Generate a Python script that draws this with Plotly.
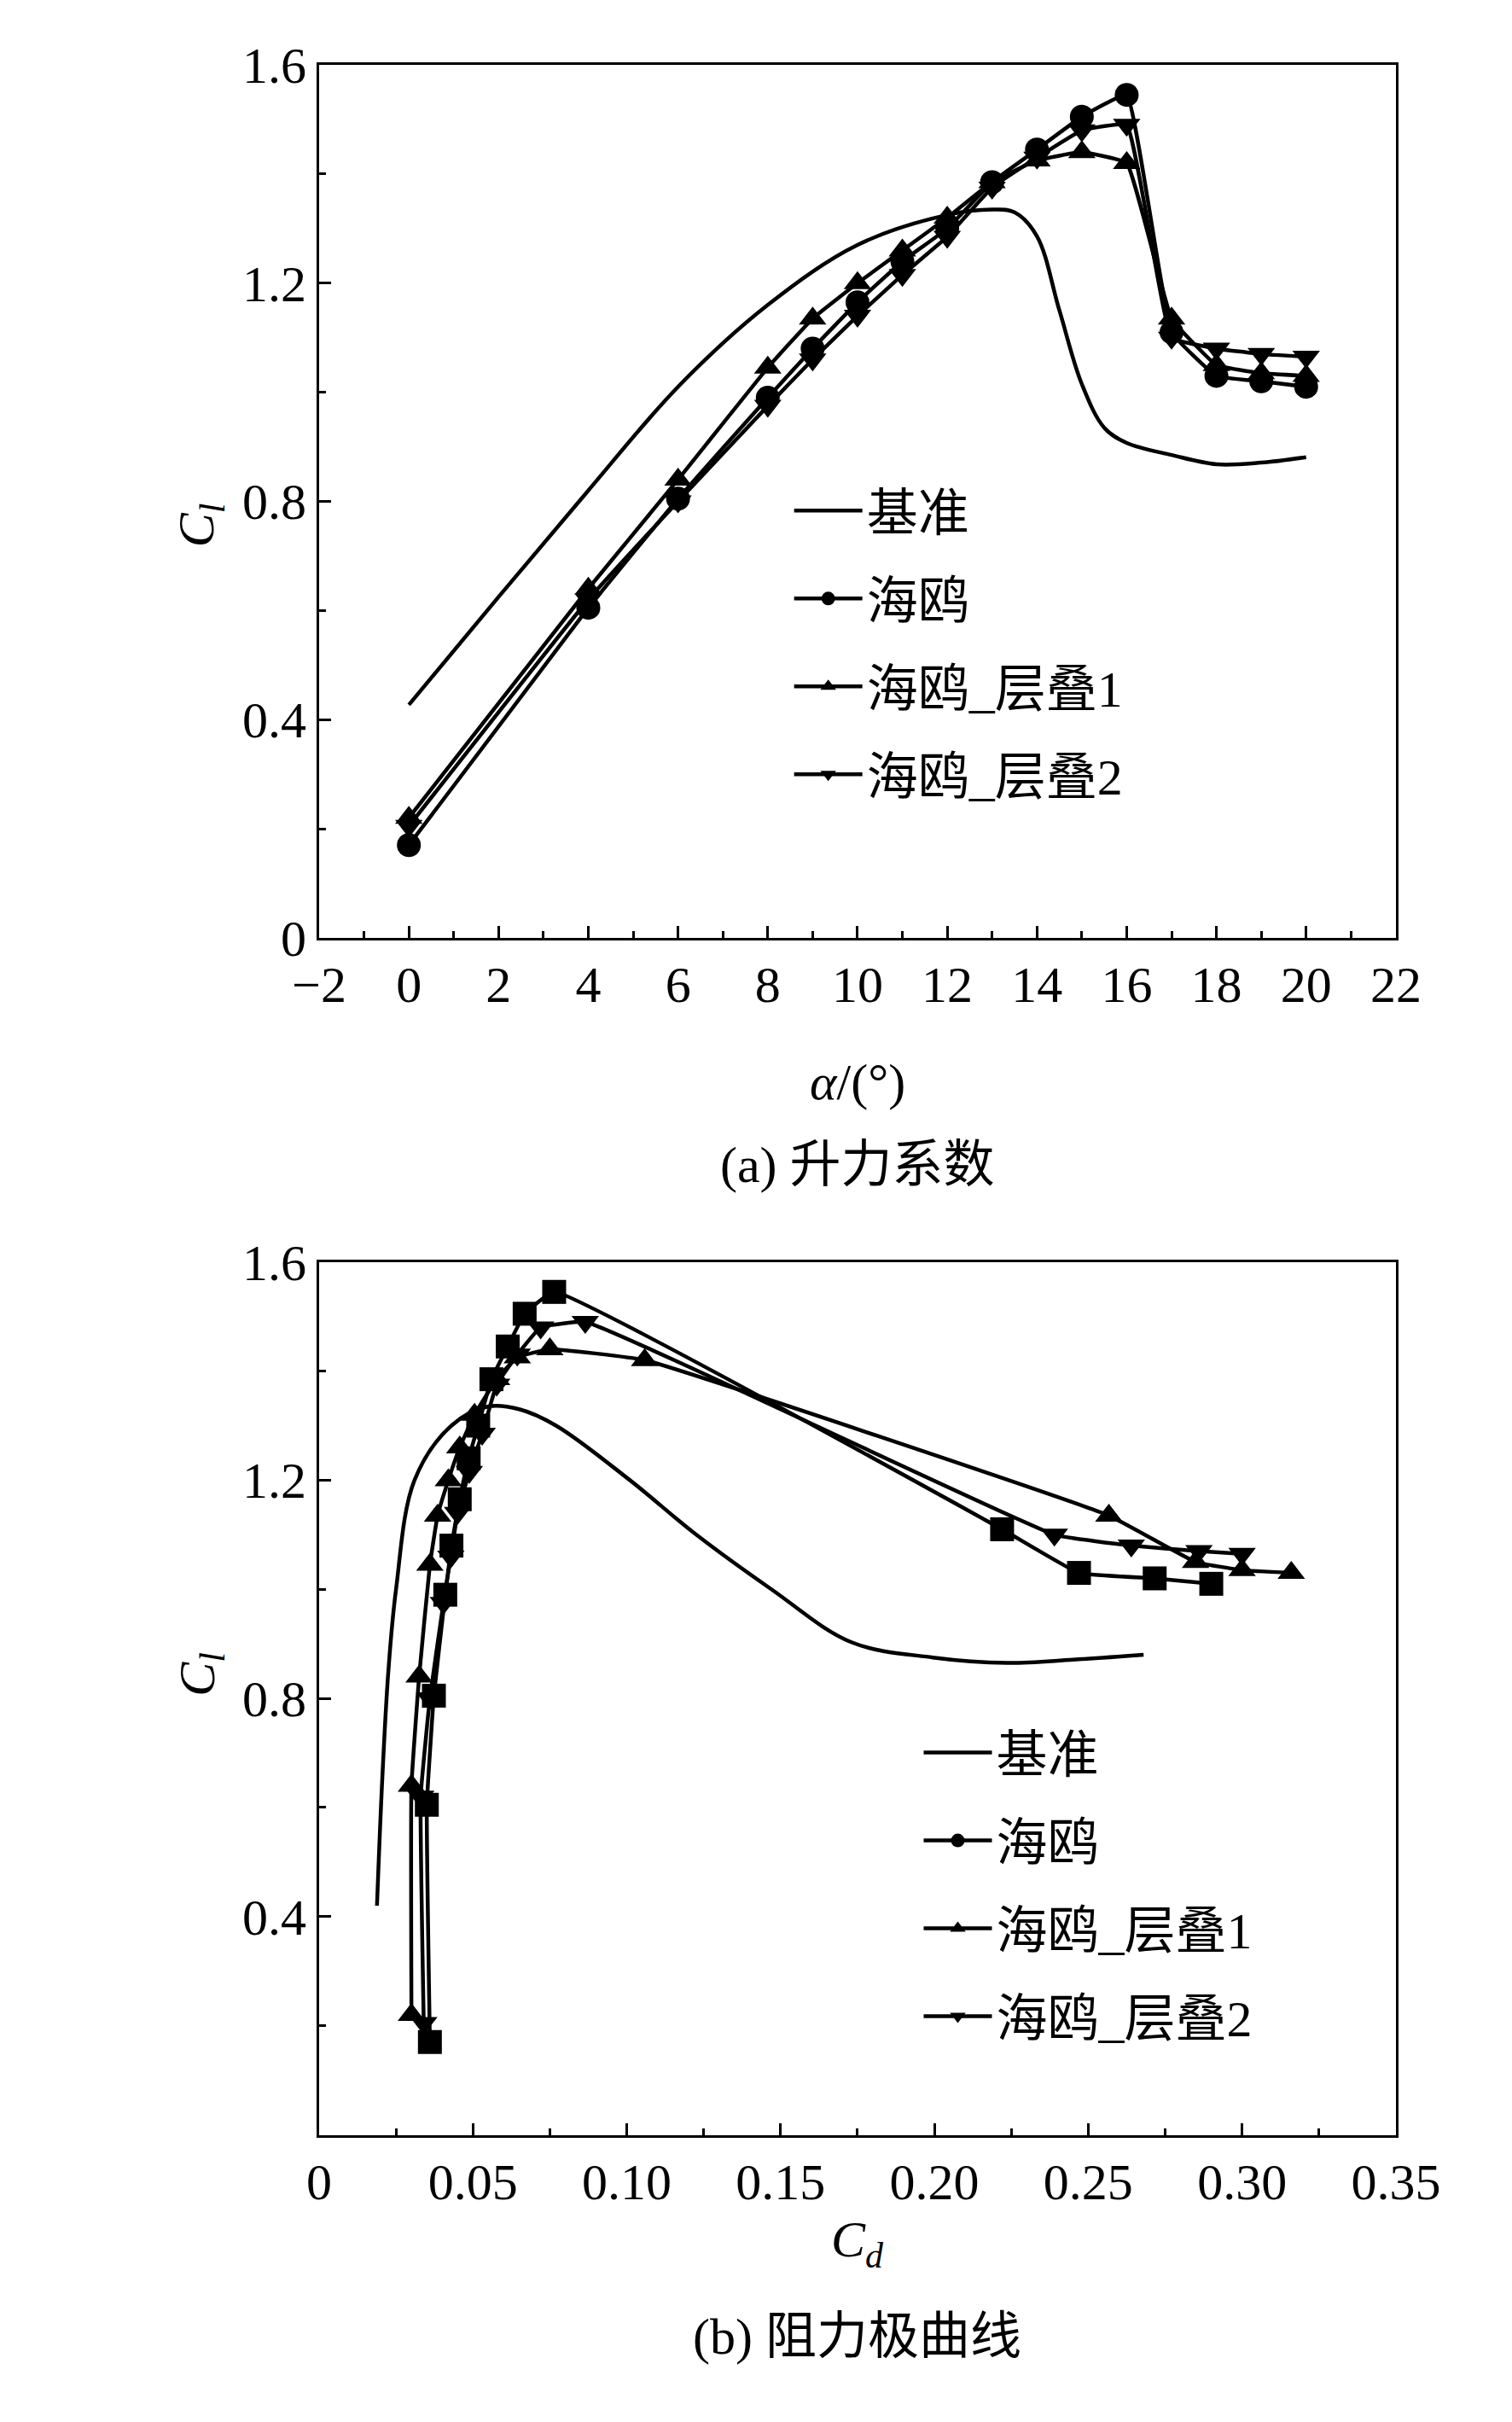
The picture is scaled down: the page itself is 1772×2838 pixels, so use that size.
import plotly.graph_objects as go

# ---- (a) lift coefficient vs angle of attack
base_alpha = [0, 2, 4, 6, 8, 10, 12, 13, 13.5, 14, 14.5, 15, 15.5, 16, 17, 18, 19, 20]
base_cl = [0.427, 0.625, 0.82, 1.01, 1.16, 1.27, 1.325, 1.335, 1.33, 1.286, 1.15, 1.015, 0.935, 0.907, 0.885, 0.868, 0.871, 0.881]

alpha = [0, 4, 6, 8, 9, 10, 11, 12, 13, 14, 15, 16, 17, 18, 19, 20]
gull_cl = [0.17, 0.605, 0.805, 0.99, 1.08, 1.165, 1.24, 1.30, 1.385, 1.445, 1.505, 1.545, 1.11, 1.03, 1.02, 1.01]
lam1_cl = [0.22, 0.64, 0.84, 1.045, 1.135, 1.2, 1.26, 1.32, 1.385, 1.425, 1.44, 1.42, 1.135, 1.05, 1.035, 1.03]
lam2_cl = [0.205, 0.62, 0.80, 0.975, 1.06, 1.14, 1.215, 1.285, 1.375, 1.43, 1.48, 1.49, 1.10, 1.08, 1.07, 1.065]

# ---- (b) drag polar
base_cd = [0.0188, 0.0205, 0.0225, 0.025, 0.031, 0.043, 0.055, 0.065, 0.077, 0.101, 0.1226, 0.147, 0.173, 0.1995, 0.2236, 0.245, 0.268]
base_cl_b = [0.42, 0.65, 0.85, 1.00, 1.20, 1.30, 1.335, 1.33, 1.30, 1.20, 1.10, 1.00, 0.903, 0.875, 0.865, 0.871, 0.88]

gull_cd = [0.036, 0.035, 0.0373, 0.041, 0.043, 0.0457, 0.0486, 0.0517, 0.056, 0.0613, 0.0668, 0.0764, 0.222, 0.247, 0.2716, 0.29]
lam1_cd = [0.030, 0.030, 0.0325, 0.036, 0.0385, 0.042, 0.0457, 0.0505, 0.0577, 0.0644, 0.075, 0.1058, 0.2567, 0.2849, 0.30, 0.316]
lam2_cd = [0.034, 0.033, 0.036, 0.0404, 0.0428, 0.045, 0.0488, 0.053, 0.0577, 0.0644, 0.072, 0.0865, 0.239, 0.264, 0.286, 0.30]

names = ["基准", "海鸥", "海鸥_层叠1", "海鸥_层叠2"]

FONT = "Liberation Serif, Noto Sans CJK SC"
LW = 4.5
MS = 28

fig = go.Figure()

def line(x, y, name, xa, ya, legend, symbol=None, showlegend=True, smooth=0.3):
    mode = "lines" if symbol is None else "lines+markers"
    fig.add_trace(go.Scatter(
        x=x, y=y, name=name, mode=mode, xaxis=xa, yaxis=ya, legend=legend,
        showlegend=showlegend, legendgroup=legend + name,
        line=dict(color="black", width=LW, shape="spline", smoothing=smooth),
        marker=dict(symbol=symbol or "circle", size=MS, color="black"),
    ))

# top panel
line(base_alpha, base_cl, names[0], "x", "y", "legend", smooth=1.0)
line(alpha, gull_cl, names[1], "x", "y", "legend", "circle")
line(alpha, lam1_cl, names[2], "x", "y", "legend", "triangle-up")
line(alpha, lam2_cl, names[3], "x", "y", "legend", "triangle-down")

# bottom panel (海鸥 drawn with squares in the plot, circle in the legend)
line(base_cd, base_cl_b, names[0], "x2", "y2", "legend2", smooth=1.0)
line(gull_cd, gull_cl, names[1], "x2", "y2", "legend2", "square", showlegend=False)
line([None], [None], names[1], "x2", "y2", "legend2", "circle")
line(lam1_cd, lam1_cl, names[2], "x2", "y2", "legend2", "triangle-up")
line(lam2_cd, lam2_cl, names[3], "x2", "y2", "legend2", "triangle-down")

axis_common = dict(
    showline=True, linecolor="black", linewidth=3, mirror=True,
    ticks="inside", ticklen=14, tickwidth=3, tickcolor="black",
    showgrid=False, zeroline=False,
    tickfont=dict(family=FONT, size=60, color="black"),
)
minor = dict(ticks="inside", ticklen=8, tickwidth=3, tickcolor="black", showgrid=False)

leg_common = dict(
    font=dict(family=FONT, size=60, color="black"),
    bgcolor="rgba(0,0,0,0)", itemwidth=80, tracegroupgap=22,
    xanchor="left", yanchor="top",
)

fig.update_layout(
    width=1772, height=2838,
    margin=dict(l=0, r=0, t=0, b=0),
    paper_bgcolor="white", plot_bgcolor="white",
    showlegend=True,
    xaxis=dict(axis_common, domain=[0.198, 0.946], range=[-2, 22], dtick=2,
               minor=dict(minor, dtick=1), anchor="y"),
    yaxis=dict(axis_common, domain=[0.618, 0.987], range=[0, 1.6],
               tickvals=[0, 0.4, 0.8, 1.2, 1.6], ticktext=["0", "0.4", "0.8", "1.2", "1.6"],
               minor=dict(minor, dtick=0.2), anchor="x"),
    xaxis2=dict(axis_common, domain=[0.198, 0.946], range=[0, 0.35],
                tickvals=[0, 0.05, 0.1, 0.15, 0.2, 0.25, 0.3, 0.35],
                ticktext=["0", "0.05", "0.10", "0.15", "0.20", "0.25", "0.30", "0.35"],
                minor=dict(minor, dtick=0.025), anchor="y2"),
    yaxis2=dict(axis_common, domain=[0.112, 0.481], range=[0, 1.6],
                tickvals=[0.4, 0.8, 1.2, 1.6], ticktext=["0.4", "0.8", "1.2", "1.6"],
                minor=dict(minor, dtick=0.2), anchor="x2"),
    legend=dict(leg_common, x=0.525, y=0.815),
    legend2=dict(leg_common, x=0.615, y=0.29),
)

txt = dict(family=FONT, size=60, color="black")
fig.add_annotation(x=0.092, y=0.8025, xref="paper", yref="paper", text="<i>C</i><sub><i>l</i></sub>",
                   textangle=-90, showarrow=False, font=txt)
fig.add_annotation(x=0.092, y=0.2965, xref="paper", yref="paper", text="<i>C</i><sub><i>l</i></sub>",
                   textangle=-90, showarrow=False, font=txt)
fig.add_annotation(x=0.572, y=0.557, xref="paper", yref="paper", text="<i>α</i>/(°)",
                   showarrow=False, font=txt)
fig.add_annotation(x=0.572, y=0.522, xref="paper", yref="paper", text="(a) 升力系数",
                   showarrow=False, font=txt)
fig.add_annotation(x=0.572, y=0.052, xref="paper", yref="paper", text="<i>C</i><sub><i>d</i></sub>",
                   showarrow=False, font=txt)
fig.add_annotation(x=0.572, y=0.014, xref="paper", yref="paper", text="(b) 阻力极曲线",
                   showarrow=False, font=txt)

fig.write_html("out.html")
